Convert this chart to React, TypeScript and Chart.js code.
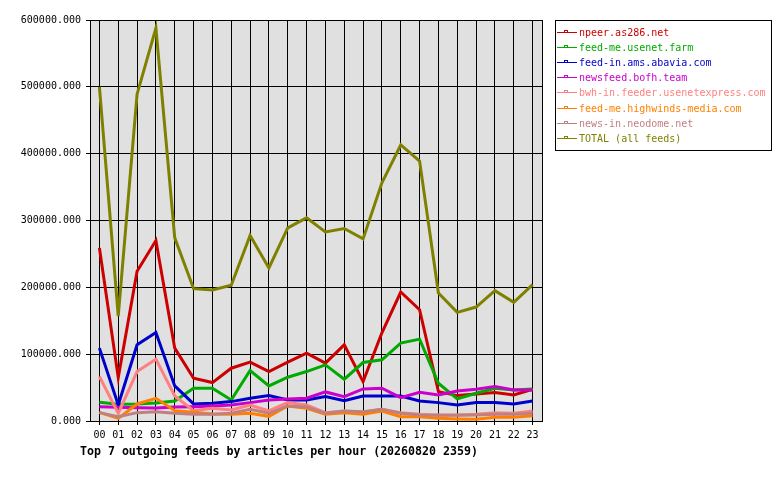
import React, { useEffect, useRef } from "react";
import { Chart, registerables } from "chart.js";

Chart.register(...registerables);

const HOURS = ["00","01","02","03","04","05","06","07","08","09","10","11","12","13","14","15","16","17","18","19","20","21","22","23"];

const NPEER = [259000, 65000, 224000, 270000, 109000, 64000, 57500, 79000, 88000, 74000, 88000, 101500, 86500, 114000, 59000, 132000, 193000, 166500, 44000, 38000, 40500, 42500, 39000, 47500];
const USENET_FARM = [28000, 25000, 25500, 27000, 30000, 49000, 49000, 31500, 75500, 52500, 65500, 74000, 84000, 62500, 87500, 91500, 116500, 122500, 56500, 33000, 41500, 49000, 46500, 48000];
const ABAVIA = [109000, 24000, 114000, 132500, 52500, 25500, 26500, 29000, 34000, 38000, 31500, 31500, 36500, 30500, 37500, 37500, 37500, 30000, 27500, 24000, 27500, 27500, 25500, 30000];
const BOFH = [21500, 20500, 20000, 19500, 21000, 21500, 22500, 24000, 27500, 31500, 33000, 34000, 43500, 36500, 48000, 49000, 35000, 43000, 39000, 45000, 47500, 51500, 46500, 46500];
const USENETEXPRESS = [66500, 11500, 74000, 92500, 37500, 15500, 19000, 16500, 24000, 15000, 27500, 24000, 12500, 15000, 13000, 17500, 12500, 10000, 9000, 9000, 10000, 12500, 11500, 15000];
const HIGHWINDS = [13000, 4000, 25500, 34000, 15500, 13000, 10500, 10000, 11500, 7000, 22500, 19000, 10000, 12500, 10000, 15000, 6500, 6500, 4000, 3000, 2500, 5500, 5500, 8000];
const NEODOME = [12500, 6500, 12500, 14000, 11500, 10000, 10000, 11500, 17500, 11500, 22500, 21000, 11500, 15000, 14000, 17500, 11500, 9000, 8500, 8500, 9000, 10000, 10000, 11500];
const TOTAL = [500000, 157000, 489000, 588000, 274000, 198000, 196000, 203000, 277500, 229000, 289000, 304000, 283000, 288000, 272500, 356500, 413000, 389000, 191500, 162500, 170500, 195000, 177500, 204000];

const SERIES_NAMES = [
  "npeer.as286.net",
  "feed-me.usenet.farm",
  "feed-in.ams.abavia.com",
  "newsfeed.bofh.team",
  "bwh-in.feeder.usenetexpress.com",
  "feed-me.highwinds-media.com",
  "news-in.neodome.net",
  "TOTAL (all feeds)",
];
const SERIES_VALUES = [NPEER, USENET_FARM, ABAVIA, BOFH, USENETEXPRESS, HIGHWINDS, NEODOME, TOTAL];
const SERIES_COLORS = ["#cc0000", "#00aa00", "#0000cc", "#cc00cc", "#ff8080", "#ff8000", "#c08080", "#808000"];

const Y_MIN = 0;
const Y_MAX = 600000;
const Y_STEP = 100000;

const TITLE = "Top 7 outgoing feeds by articles per hour (20260820 2359)";

const MONO = "'DejaVu Sans Mono', monospace";

const plotBackground = {
  id: "plotBackground",
  beforeDraw(chart: any) {
    const { ctx, chartArea } = chart;
    ctx.save();
    ctx.fillStyle = "#e0e0e0";
    ctx.fillRect(chartArea.left, chartArea.top, chartArea.right - chartArea.left, chartArea.bottom - chartArea.top);
    ctx.restore();
  },
};

const plotFrame = {
  id: "plotFrame",
  afterDatasetsDraw(chart: any) {
    const { ctx, chartArea } = chart;
    ctx.save();
    ctx.strokeStyle = "#000";
    ctx.lineWidth = 1;
    const l = Math.round(chartArea.left) + 0.5;
    const t = Math.round(chartArea.top) + 0.5;
    const r = Math.round(chartArea.right) + 0.5;
    const b = Math.round(chartArea.bottom) + 0.5;
    ctx.strokeRect(l, t, r - l, b - t);
    ctx.restore();
  },
};

const boxLegend = {
  id: "boxLegend",
  afterDraw(chart: any) {
    const { ctx } = chart;
    const bx = 555.5, by = 20.5, bw = 216, bh = 130;
    ctx.save();
    ctx.fillStyle = "#fff";
    ctx.fillRect(bx, by, bw, bh);
    ctx.strokeStyle = "#000";
    ctx.lineWidth = 1;
    ctx.strokeRect(bx, by, bw, bh);
    ctx.font = "10px " + MONO;
    ctx.textBaseline = "middle";
    ctx.textAlign = "left";
    chart.data.datasets.forEach((ds: any, i: number) => {
      const y = Math.round(32 + i * 15.1) + 0.5;
      ctx.strokeStyle = ds.borderColor;
      ctx.lineWidth = 1;
      ctx.beginPath();
      ctx.moveTo(557, y);
      ctx.lineTo(577, y);
      ctx.stroke();
      ctx.strokeRect(564.5, y - 2, 3, 2);
      ctx.fillStyle = ds.borderColor;
      ctx.fillText(ds.label, 579, y + 0.5);
    });
    ctx.restore();
  },
};

const bottomTitle = {
  id: "bottomTitle",
  afterDraw(chart: any) {
    const { ctx } = chart;
    ctx.save();
    ctx.font = "bold 11.6px " + MONO;
    ctx.fillStyle = "#000";
    ctx.textAlign = "left";
    ctx.textBaseline = "alphabetic";
    ctx.fillText(TITLE, 80, 455);
    ctx.restore();
  },
};

export default function App() {
  const canvasRef = useRef<HTMLCanvasElement | null>(null);

  useEffect(() => {
    if (!canvasRef.current) return;
    Chart.defaults.font.family = MONO;
    Chart.defaults.font.size = 10;
    Chart.defaults.color = "#000";

    const chart = new Chart(canvasRef.current, {
      type: "line",
      data: {
        labels: HOURS,
        datasets: SERIES_NAMES.map((name, i) => ({
          label: name,
          data: SERIES_VALUES[i],
          borderColor: SERIES_COLORS[i],
          backgroundColor: SERIES_COLORS[i],
          borderWidth: 3,
          pointRadius: 0,
          pointHoverRadius: 0,
          tension: 0,
          fill: false,
          order: -i,
        })),
      },
      options: {
        animation: false,
        responsive: true,
        maintainAspectRatio: false,
        devicePixelRatio: 1,
        layout: { padding: { left: 0, top: 20, right: 238, bottom: 0 } },
        plugins: {
          legend: { display: false },
          title: { display: false },
          tooltip: { enabled: false },
        },
        scales: {
          x: {
            type: "category",
            offset: true,
            grid: { color: "#000", lineWidth: 1, tickLength: 4, offset: false, drawOnChartArea: true },
            border: { display: true, color: "#000" },
            ticks: { maxRotation: 0, autoSkip: false, padding: 4, color: "#000", font: { size: 10, family: MONO } },
            afterFit: (scale: any) => { scale.height = 59; },
          },
          y: {
            min: Y_MIN,
            max: Y_MAX,
            grid: { color: "#000", lineWidth: 1, tickLength: 4 },
            border: { display: true, color: "#000" },
            ticks: {
              stepSize: Y_STEP,
              padding: 5,
              color: "#000",
              font: { size: 10, family: MONO },
              callback: (v: any) => Number(v).toFixed(3),
            },
            afterFit: (scale: any) => { scale.width = 90; },
          },
        },
      },
      plugins: [plotBackground, plotFrame, boxLegend, bottomTitle],
    });
    return () => chart.destroy();
  }, []);

  return (
    <div style={{ position: "fixed", left: 0, top: 0, width: 780, height: 480, background: "#fff" }}>
      <canvas ref={canvasRef} />
    </div>
  );
}
